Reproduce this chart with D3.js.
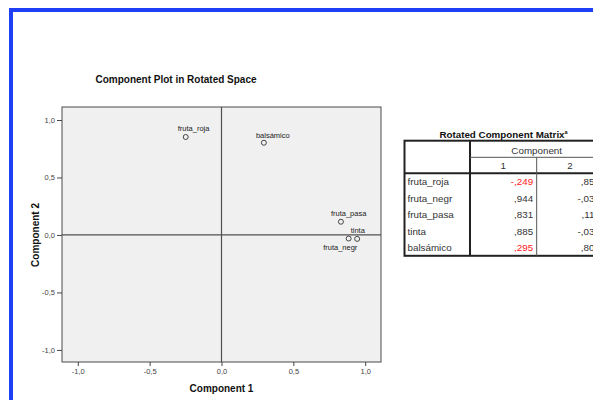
<!DOCTYPE html>
<html>
<head>
<meta charset="utf-8">
<script src="https://cdn.jsdelivr.net/npm/d3@7"></script>
<style>
  html, body { margin: 0; padding: 0; background: #fff; }
  svg { display: block; font-family: "Liberation Sans", Arial, sans-serif; }
</style>
</head>
<body>
<svg id="chart" width="593" height="400"></svg>
<script>
// Rotated component loadings
const variables = ["fruta_roja", "fruta_negr", "fruta_pasa", "tinta", "balsámico"];
const component1 = [-0.249, 0.944, 0.831, 0.885, 0.295];
const component2 = [0.852, -0.034, 0.115, -0.031, 0.802];
const flagged1 = [true, false, false, false, true];
const tickValues = [-1.0, -0.5, 0.0, 0.5, 1.0];

// label offsets for each point (pixels relative to the marker)
const labelOffset = {
  "fruta_roja": [-8, -6],
  "fruta_negr": [-34, 11],
  "fruta_pasa": [-10, -6],
  "tinta": [2, -6],
  "balsámico": [-8, -5]
};

const svg = d3.select("#chart");

// page frame
svg.append("rect").attr("x", 9).attr("y", 8).attr("width", 600).attr("height", 4).attr("fill", "#1f3ff5");
svg.append("rect").attr("x", 9).attr("y", 8).attr("width", 4).attr("height", 400).attr("fill", "#1f3ff5");

const plot = { left: 62, right: 381, top: 107, bottom: 362 };
const x = d3.scaleLinear().domain([-1.11, 1.11]).range([plot.left, plot.right]);
const y = d3.scaleLinear().domain([-1.105, 1.113]).range([plot.bottom, plot.top]);
// comma decimals with a plain hyphen for negatives
const locale = d3.formatLocale({ decimal: ",", thousands: ".", grouping: [3], currency: ["", ""], minus: "-" });
const fmt = locale.format(".1f");
const fmtLoad = v => locale.format(".3f")(v).replace("0,", ",");

svg.append("text")
  .attr("x", 176).attr("y", 82.5)
  .attr("text-anchor", "middle")
  .attr("font-size", 10).attr("font-weight", "bold").attr("fill", "#111")
  .text("Component Plot in Rotated Space");

svg.append("rect")
  .attr("x", plot.left).attr("y", plot.top)
  .attr("width", plot.right - plot.left).attr("height", plot.bottom - plot.top)
  .attr("fill", "#f0f0f0").attr("stroke", "#4a4a4a").attr("stroke-width", 1);

// axes
const xAxis = svg.append("g").attr("transform", `translate(0,${plot.bottom})`)
  .call(d3.axisBottom(x).tickValues(tickValues).tickFormat(fmt).tickSize(4).tickPadding(3));
const yAxis = svg.append("g").attr("transform", `translate(${plot.left},0)`)
  .call(d3.axisLeft(y).tickValues(tickValues).tickFormat(fmt).tickSize(5).tickPadding(2));
[xAxis, yAxis].forEach(g => {
  g.select(".domain").remove();
  g.selectAll(".tick line").attr("stroke", "#444");
  g.selectAll(".tick text").attr("fill", "#444").attr("font-size", 7.5)
    .attr("font-family", "Liberation Sans, Arial, sans-serif");
});

// zero reference lines
svg.append("line")
  .attr("x1", x(0)).attr("x2", x(0)).attr("y1", plot.top).attr("y2", plot.bottom)
  .attr("stroke", "#505050").attr("stroke-width", 1.2);
svg.append("line")
  .attr("x1", plot.left).attr("x2", plot.right).attr("y1", y(0)).attr("y2", y(0))
  .attr("stroke", "#505050").attr("stroke-width", 1.2);

// axis titles
svg.append("text")
  .attr("x", x(0)).attr("y", 391.5)
  .attr("text-anchor", "middle").attr("font-size", 10).attr("font-weight", "bold").attr("fill", "#111")
  .text("Component 1");
svg.append("text")
  .attr("transform", `translate(38.5,${y(0)}) rotate(-90)`)
  .attr("text-anchor", "middle").attr("font-size", 10).attr("font-weight", "bold").attr("fill", "#111")
  .text("Component 2");

// points and labels
const pts = variables.map((v, i) => ({ name: v, c1: component1[i], c2: component2[i] }));
svg.append("g").selectAll("circle").data(pts).join("circle")
  .attr("cx", d => x(d.c1)).attr("cy", d => y(d.c2)).attr("r", 2.5)
  .attr("fill", "none").attr("stroke", "#333").attr("stroke-width", 0.9);
svg.append("g").selectAll("text").data(pts).join("text")
  .attr("x", d => x(d.c1) + labelOffset[d.name][0])
  .attr("y", d => y(d.c2) + labelOffset[d.name][1])
  .attr("font-size", 7.5).attr("fill", "#222")
  .text(d => d.name);

// rotated component matrix table
const cols = [404.5, 470, 536.7, 603.4];
const rowTop = 140.7, compBottom = 157.3, headBottom = 173.3, rowH = 16.5;
const tBottom = headBottom + rowH * variables.length;
const tbl = svg.append("g");

const title = tbl.append("text")
  .attr("x", 503.5).attr("y", 137.5).attr("text-anchor", "middle")
  .attr("font-size", 9.8).attr("font-weight", "bold").attr("fill", "#111");
title.append("tspan").text("Rotated Component Matrix");
title.append("tspan").attr("font-size", 5.5).attr("dy", -4).text("a");

tbl.append("rect").attr("x", cols[0]).attr("y", rowTop)
  .attr("width", cols[3] - cols[0]).attr("height", tBottom - rowTop)
  .attr("fill", "none").attr("stroke", "#222").attr("stroke-width", 2);
tbl.append("line").attr("x1", cols[1]).attr("x2", cols[1]).attr("y1", rowTop).attr("y2", tBottom)
  .attr("stroke", "#222").attr("stroke-width", 2);
tbl.append("line").attr("x1", cols[0]).attr("x2", cols[3]).attr("y1", headBottom).attr("y2", headBottom)
  .attr("stroke", "#222").attr("stroke-width", 2);
tbl.append("line").attr("x1", cols[2]).attr("x2", cols[2]).attr("y1", compBottom).attr("y2", tBottom)
  .attr("stroke", "#555").attr("stroke-width", 1);
tbl.append("line").attr("x1", cols[1]).attr("x2", cols[3]).attr("y1", compBottom).attr("y2", compBottom)
  .attr("stroke", "#555").attr("stroke-width", 1);

const txt = (xx, yy, s, anchor, color) => tbl.append("text")
  .attr("x", xx).attr("y", yy).attr("text-anchor", anchor)
  .attr("font-size", 9.8).attr("fill", color || "#333").text(s);

txt(cols[2], 154, "Component", "middle");
txt((cols[1] + cols[2]) / 2, 169, "1", "middle");
txt((cols[2] + cols[3]) / 2, 169, "2", "middle");

variables.forEach((v, i) => {
  const yy = headBottom + rowH * i + 11.8;
  txt(cols[0] + 3, yy, v, "start");
  txt(cols[2] - 3.5, yy, fmtLoad(component1[i]), "end", flagged1[i] ? "#ff2020" : "#333");
  txt(cols[3] - 3.5, yy, fmtLoad(component2[i]), "end");
});
</script>
</body>
</html>
